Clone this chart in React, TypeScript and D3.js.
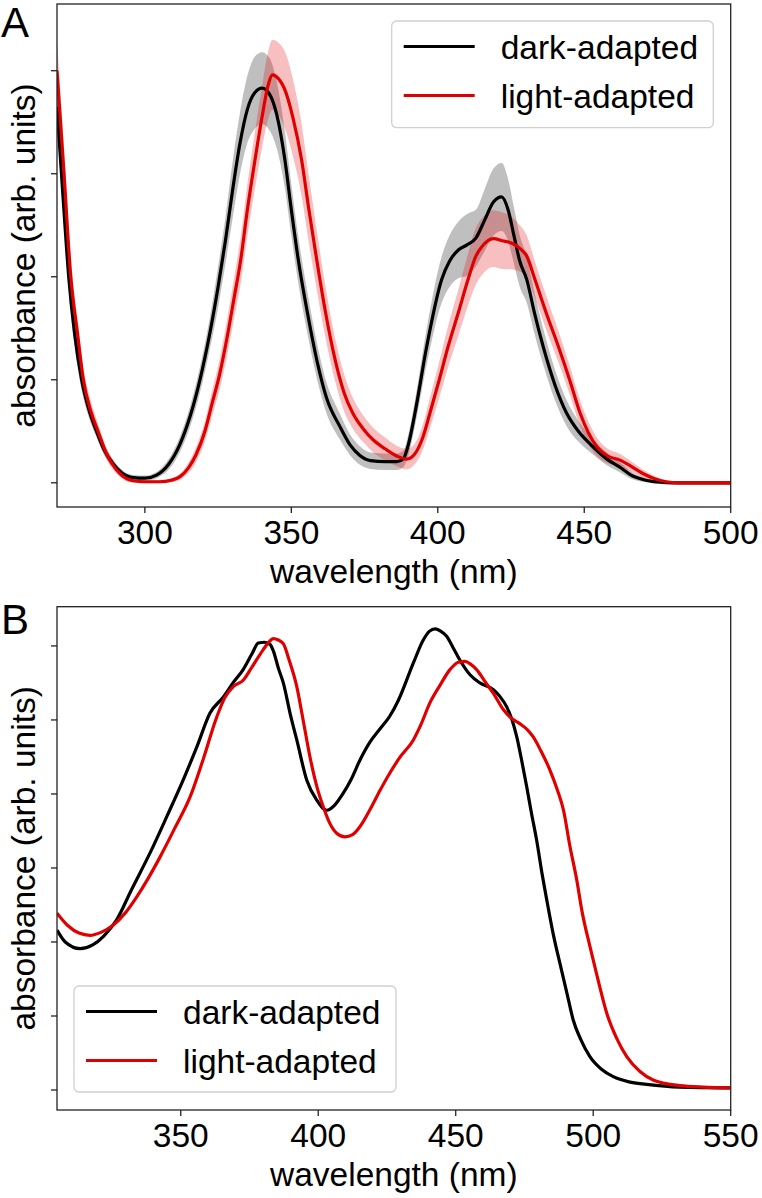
import React from "react";
import * as d3 from "d3";

// Panel A: [wavelength, value, sd]
const darkA: [number, number, number][] = [
  [270,0.73,0.03],[272,0.56,0.03],[274,0.40,0.03],[276,0.29,0.025],[278.4,0.20,0.02],[281,0.14,0.015],[283.5,0.10,0.012],[286,0.065,0.01],[289,0.038,0.008],[292,0.02,0.006],[296,0.01,0.005],[300,0.009,0.005],[304,0.015,0.006],[308,0.035,0.01],[312,0.075,0.015],[315.5,0.13,0.02],[318.8,0.2,0.025],[322,0.285,0.03],[325,0.38,0.04],[327.5,0.47,0.045],[330,0.57,0.055],[332.5,0.66,0.06],[335,0.725,0.065],[337.5,0.757,0.07],[340,0.766,0.07],[342.5,0.755,0.07],[345,0.715,0.065],[347.8,0.627,0.055],[350,0.53,0.05],[352.4,0.432,0.045],[355.5,0.33,0.04],[358.7,0.238,0.035],[362,0.165,0.03],[366.6,0.109,0.025],[370,0.074,0.02],[373.4,0.053,0.018],[377,0.043,0.016],[382,0.041,0.016],[386,0.041,0.016],[388.2,0.046,0.016],[390,0.075,0.02],[392.2,0.135,0.025],[396.2,0.264,0.035],[401.3,0.394,0.045],[404,0.43,0.05],[407,0.452,0.055],[410,0.462,0.06],[413,0.475,0.055],[416,0.51,0.06],[419,0.545,0.065],[421.8,0.555,0.066],[424,0.53,0.06],[426,0.48,0.055],[428,0.43,0.05],[430.4,0.394,0.045],[433,0.33,0.04],[436,0.264,0.035],[440,0.19,0.03],[444,0.135,0.025],[448,0.1,0.02],[453,0.07,0.015],[458,0.045,0.012],[462,0.031,0.01],[466,0.015,0.007],[471,0.005,0.004],[476,0.001,0.002],[480,0,0.001],[500,0,0]
];
const lightA: [number, number, number][] = [
  [270,0.80,0.06],[272.4,0.60,0.05],[274.7,0.40,0.04],[277,0.29,0.03],[279,0.20,0.025],[281.5,0.14,0.02],[284,0.10,0.015],[286.5,0.062,0.012],[288.7,0.038,0.01],[292,0.015,0.006],[296,0.004,0.004],[300,0.002,0.003],[305,0.002,0.003],[309,0.005,0.004],[312,0.012,0.006],[315,0.03,0.01],[317.5,0.055,0.015],[320.5,0.1,0.02],[323,0.155,0.025],[325.5,0.21,0.03],[328,0.28,0.035],[330.5,0.36,0.04],[332.7,0.432,0.045],[335,0.53,0.05],[337.6,0.627,0.055],[340,0.71,0.06],[342,0.77,0.065],[343.6,0.792,0.068],[345.5,0.785,0.07],[348,0.76,0.075],[350.5,0.71,0.075],[353.5,0.627,0.07],[356,0.53,0.065],[358.7,0.432,0.058],[361.7,0.33,0.05],[364.9,0.24,0.042],[368,0.175,0.036],[371,0.135,0.03],[374.5,0.105,0.026],[378,0.083,0.024],[382,0.066,0.022],[386,0.052,0.02],[389.3,0.046,0.02],[392,0.055,0.02],[395,0.09,0.025],[397.3,0.135,0.03],[400.5,0.2,0.035],[403.5,0.264,0.04],[407,0.33,0.045],[410.3,0.394,0.05],[413,0.44,0.055],[415,0.458,0.055],[419,0.474,0.055],[422,0.47,0.055],[425.7,0.464,0.05],[428,0.455,0.045],[430.3,0.441,0.04],[433.2,0.394,0.035],[437,0.33,0.033],[441.2,0.264,0.03],[445,0.2,0.028],[448.6,0.135,0.025],[454.3,0.07,0.018],[458,0.052,0.014],[462.2,0.044,0.012],[466,0.032,0.01],[470,0.018,0.008],[474,0.008,0.005],[478,0.002,0.002],[482,0,0.001],[500,0,0]
];

// Panel B: [wavelength, value]
const darkB: [number, number][] = [
  [305,0.216],[308,0.2],[313.4,0.191],[318,0.196],[322,0.208],[326.7,0.23],[332,0.27],[338.8,0.32],[345,0.37],[350.9,0.419],[356,0.465],[360.6,0.509],[365.5,0.531],[369,0.55],[372.7,0.568],[376,0.59],[378.2,0.604],[380.5,0.605],[382.5,0.602],[383.7,0.593],[385.5,0.57],[387.3,0.55],[390,0.505],[392.2,0.473],[395.8,0.419],[399.4,0.392],[403.1,0.378],[406,0.385],[409.1,0.401],[412,0.42],[415.2,0.446],[418.8,0.47],[422.5,0.488],[426,0.505],[429.2,0.527],[434.6,0.577],[438.2,0.608],[440.5,0.62],[442.5,0.623],[444.5,0.62],[446.7,0.613],[449,0.598],[451.5,0.581],[455.2,0.561],[458.8,0.55],[463.7,0.541],[466,0.532],[468.5,0.518],[470.5,0.5],[472.2,0.477],[474,0.445],[475.8,0.41],[477.5,0.375],[479.4,0.338],[481.5,0.29],[483.1,0.257],[485.5,0.21],[487.9,0.171],[490.5,0.13],[492.7,0.095],[495.5,0.068],[498.8,0.045],[503,0.028],[507.3,0.018],[513,0.011],[519.4,0.0077],[531.5,0.004],[550,0.003]
];
const lightB: [number, number][] = [
  [305,0.239],[309,0.222],[313,0.212],[317,0.209],[321,0.213],[325.5,0.223],[330,0.24],[334,0.261],[338,0.285],[342.5,0.315],[348,0.355],[353.4,0.396],[358,0.445],[363.1,0.504],[366,0.53],[369.1,0.545],[372.8,0.554],[376,0.572],[380,0.595],[382,0.605],[383.7,0.61],[385.5,0.608],[387.3,0.603],[389.5,0.58],[392.2,0.545],[394.5,0.5],[397,0.45],[399.5,0.41],[401.8,0.383],[404,0.362],[406.7,0.347],[409.7,0.342],[412.5,0.345],[415.2,0.356],[419,0.38],[422.5,0.405],[426,0.428],[429.8,0.45],[434.6,0.473],[437.5,0.495],[440.6,0.523],[444,0.545],[447.9,0.568],[451,0.578],[453.4,0.579],[455.5,0.575],[457.6,0.568],[461,0.55],[463.7,0.536],[467.3,0.514],[470,0.503],[473.3,0.495],[476,0.487],[478.2,0.477],[481,0.458],[484.3,0.432],[487,0.405],[489.2,0.378],[491.5,0.33],[494,0.284],[496,0.24],[498.8,0.194],[502,0.145],[504.9,0.104],[508.5,0.07],[512.2,0.045],[517,0.025],[521.8,0.0135],[526,0.009],[531.5,0.006],[540,0.004],[550,0.003]
];

const xTicksA = [300, 350, 400, 450, 500];
const yTicksA = [0, 0.2, 0.4, 0.6, 0.8];
const xTicksB = [350, 400, 450, 500, 550];
const yTicksB = [0, 0.1, 0.2, 0.3, 0.4, 0.5, 0.6];
const seriesLabels = ["dark-adapted", "light-adapted"];

const FONT = "'Liberation Sans', Arial, Helvetica, sans-serif";
const BLACK = "#000000";
const RED = "#e00000";
const FS = 33.5;

type PanelProps = {
  id: string;
  letter: string;
  letterY: number;
  top: number;
  bottom: number;
  xDomain: [number, number];
  yDomain: [number, number];
  xTicks: number[];
  yTicks: number[];
  legend: { x: number; y: number; w: number; h: number };
  children: (x: d3.ScaleLinear<number, number>, y: d3.ScaleLinear<number, number>) => React.ReactNode;
};

const LEFT = 57;
const RIGHT = 730.7;

function Panel({ id, letter, letterY, top, bottom, xDomain, yDomain, xTicks, yTicks, legend, children }: PanelProps) {
  const x = d3.scaleLinear().domain(xDomain).range([LEFT, RIGHT]);
  const y = d3.scaleLinear().domain(yDomain).range([bottom, top]);
  const cy = (top + bottom) / 2;
  return (
    <g>
      <defs>
        <clipPath id={id}>
          <rect x={LEFT} y={top} width={RIGHT - LEFT} height={bottom - top} />
        </clipPath>
      </defs>
      <g clipPath={`url(#${id})`}>{children(x, y)}</g>
      <rect x={LEFT} y={top} width={RIGHT - LEFT} height={bottom - top} fill="none" stroke="#222" strokeWidth={1.3} />
      {xTicks.map((t) => (
        <g key={`x${t}`}>
          <line x1={x(t)} x2={x(t)} y1={bottom} y2={bottom + 6} stroke="#222" strokeWidth={1.3} />
          <text x={x(t)} y={bottom + 36.5} textAnchor="middle" fontSize={FS} fontFamily={FONT} fill="#000">{t}</text>
        </g>
      ))}
      {yTicks.map((t) => (
        <line key={`y${t}`} x1={LEFT - 6} x2={LEFT} y1={y(t)} y2={y(t)} stroke="#222" strokeWidth={1.3} />
      ))}
      <text x={(LEFT + RIGHT) / 2} y={bottom + 76} textAnchor="middle" fontSize={FS} fontFamily={FONT} fill="#000">wavelength (nm)</text>
      <text transform={`translate(35,${cy}) rotate(-90)`} textAnchor="middle" fontSize={FS} fontFamily={FONT} fill="#000">absorbance (arb. units)</text>
      <text x={1} y={letterY} fontSize={42} fontFamily={FONT} fill="#000">{letter}</text>
      <g>
        <rect x={legend.x} y={legend.y} width={legend.w} height={legend.h} rx={5} ry={5} fill="#fff" fillOpacity={0.85} stroke="#d0d0d0" strokeWidth={1.3} />
        {seriesLabels.map((s, i) => {
          const ly = legend.y + 25.5 + i * 49;
          return (
            <g key={s}>
              <line x1={legend.x + 12} x2={legend.x + 83} y1={ly} y2={ly} stroke={i === 0 ? BLACK : RED} strokeWidth={3.2} />
              <text x={legend.x + 109} y={ly + 12} fontSize={FS} fontFamily={FONT} fill="#000">{s}</text>
            </g>
          );
        })}
      </g>
    </g>
  );
}

export default function App() {
  const lineFn = (x: any, y: any) =>
    d3.line<number[]>().x((d) => x(d[0])).y((d) => y(d[1])).curve(d3.curveMonotoneX);
  const areaFn = (x: any, y: any) =>
    d3.area<number[]>().x((d) => x(d[0])).y0((d) => y(d[1] - d[2])).y1((d) => y(d[1] + d[2])).curve(d3.curveMonotoneX);

  return (
    <svg width={762} height={1198} style={{ position: "absolute", left: 0, top: 0, background: "#fff" }}>
      <rect x={0} y={0} width={762} height={1198} fill="#fff" />
      <Panel
        id="clipA" letter="A" letterY={37} top={4} bottom={507}
        xDomain={[270, 500]} yDomain={[-0.047, 0.9295]}
        xTicks={xTicksA} yTicks={yTicksA}
        legend={{ x: 391.7, y: 21, w: 321.6, h: 106.7 }}
      >
        {(x, y) => (
          <g>
            <path d={areaFn(x, y)(darkA) || ""} fill="#808080" fillOpacity={0.5} />
            <path d={areaFn(x, y)(lightA) || ""} fill={RED} fillOpacity={0.25} />
            <path d={lineFn(x, y)(darkA) || ""} fill="none" stroke={BLACK} strokeWidth={3.2} strokeLinejoin="round" />
            <path d={lineFn(x, y)(lightA) || ""} fill="none" stroke={RED} strokeWidth={3.2} strokeLinejoin="round" />
          </g>
        )}
      </Panel>
      <Panel
        id="clipB" letter="B" letterY={634} top={606.7} bottom={1110}
        xDomain={[305, 550]} yDomain={[-0.027, 0.653]}
        xTicks={xTicksB} yTicks={yTicksB}
        legend={{ x: 74, y: 986, w: 322, h: 106 }}
      >
        {(x, y) => (
          <g>
            <path d={lineFn(x, y)(darkB) || ""} fill="none" stroke={BLACK} strokeWidth={3.2} strokeLinejoin="round" />
            <path d={lineFn(x, y)(lightB) || ""} fill="none" stroke={RED} strokeWidth={3.2} strokeLinejoin="round" />
          </g>
        )}
      </Panel>
    </svg>
  );
}
